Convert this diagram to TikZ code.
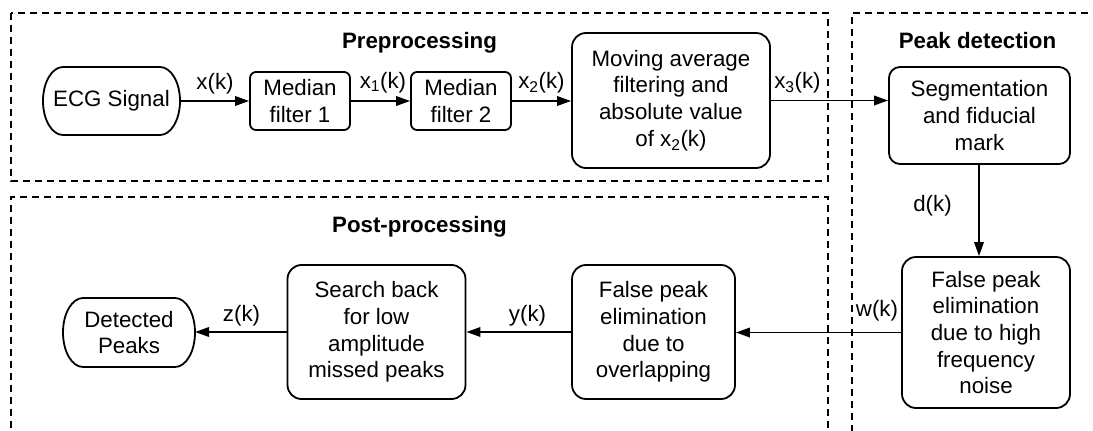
\documentclass[tikz,border=0pt]{standalone}
\usepackage{fontspec}
\setmainfont{Liberation Sans}
\usetikzlibrary{arrows.meta}

% outline of a terminal node with half-elliptic ends: node, end depth, half height
\newcommand\termframe[3]{%
  \draw[line width=1.8pt]
    ([xshift=#2]#1.north west) -- ([xshift=-#2]#1.north east)
    arc[start angle=90, end angle=-90, x radius=#2, y radius=#3]
    -- ([xshift=#2]#1.south west)
    arc[start angle=270, end angle=90, x radius=#2, y radius=#3] -- cycle;}

\begin{document}
\begin{tikzpicture}[x=1pt,y=-1pt,
  every node/.style={font=\fontsize{22.3}{26.7}\selectfont, inner sep=0pt},
  block/.style={draw, line width=1.8pt, rounded corners=#1, align=center},
  block/.default=13pt,
  terminal/.style={align=center, outer sep=0pt},
  region/.style={line width=1.3pt, dash pattern=on 7pt off 5pt},
  arr/.style={line width=1.8pt, -{Triangle[length=14pt,width=9.5pt]}},
  title/.style={font=\bfseries\fontsize{22.3}{26.7}\selectfont, anchor=base},
  sig/.style={anchor=center}
]
\clip (0,0) rectangle (1093,431);

% stage frames
\draw[region] (11,13) rectangle (828,181);
\draw[region] (11,440) -- (11,197) -- (828,197) -- (828,440);
\draw[region] (1100,13) -- (852,13) -- (852,440);

% stage titles
\node[title] (tpre)  at (419.5,48)  {Preprocessing};
\node[title] (tpeak) at (977.5,48)  {Peak detection};
\node[title] (tpost) at (419.5,232) {Post-processing};

% preprocessing chain
\node[terminal, minimum width=137pt, minimum height=68pt] (ecg) at (111.5,101) {ECG Signal};
\termframe{ecg}{20pt}{34pt}
\node[block=6pt, minimum width=100pt, minimum height=58pt] (mf1) at (300,101) {Median\\filter 1};
\node[block=6pt, minimum width=100pt, minimum height=58pt] (mf2) at (461,101) {Median\\filter 2};
\node[block=14pt, minimum width=198pt, minimum height=135pt] (mav) at (671,100.5)
  {Moving average\\filtering and\\absolute value\\of x\textsubscript{2}(k)};

% peak detection
\node[block=11pt, minimum width=181pt, minimum height=97pt] (seg) at (979.5,115.5)
  {Segmentation\\and fiducial\\mark};
\node[block=14pt, minimum width=168pt, minimum height=151pt] (hf) at (986,332.5)
  {False peak\\elimination\\due to high\\frequency\\noise};

% post-processing chain
\node[block=14pt, minimum width=163pt, minimum height=134pt] (ovl) at (653.5,332)
  {False peak\\elimination\\due to\\overlapping};
\node[block=14pt, minimum width=178pt, minimum height=134pt] (sb) at (376.5,332)
  {Search back\\for low\\amplitude\\missed peaks};
\node[terminal, minimum width=132pt, minimum height=69pt] (det) at (129,332.5) {Detected\\Peaks};
\termframe{det}{20pt}{34.5pt}

% signal flow
\draw[arr] (ecg) -- (mf1);
\draw[arr] (mf1) -- (mf2);
\draw[arr] (mf2.east) -- (mf2.east -| mav.west);
\draw[arr] (mav.east) -- (mav.east -| seg.west);
\draw[arr] (seg.south -| 979,0) -- (979,0 |- hf.north);
\draw[arr] (hf.west) -- (hf.west -| ovl.east);
\draw[arr] (ovl) -- (sb);
\draw[arr] (sb.west) -- (sb.west -| det.east);

% signal names
\node[sig] (lx)  at (215,84)    {x(k)};
\node[sig] (lx1) at (383,82.5)  {x\textsubscript{1}(k)};
\node[sig] (lx2) at (541.5,82.5){x\textsubscript{2}(k)};
\node[sig] (lx3) at (797.5,82.5){x\textsubscript{3}(k)};
\node[sig] (ld)  at (932.5,206) {d(k)};
\node[sig] (lw)  at (877,311)   {w(k)};
\node[sig] (ly)  at (527.5,316) {y(k)};
\node[sig] (lz)  at (241.5,316) {z(k)};
\end{tikzpicture}
\end{document}
